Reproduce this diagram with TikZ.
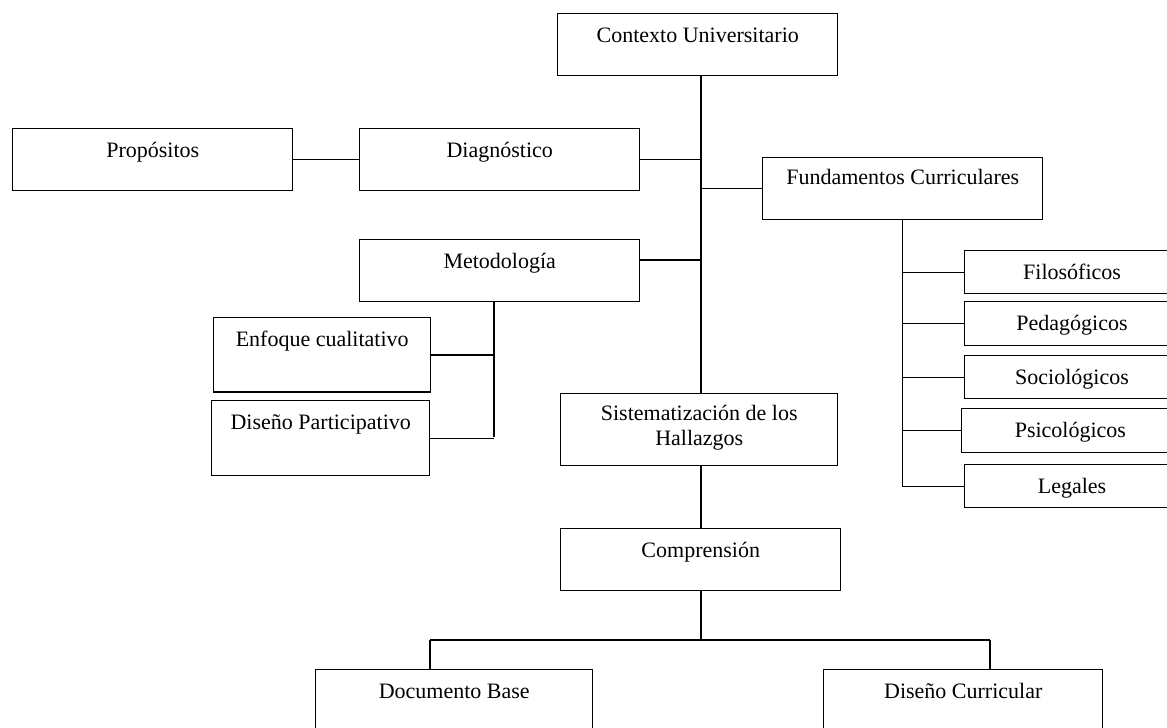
\documentclass[tikz,border=0pt]{standalone}
\usepackage{fontspec}
\setmainfont{Liberation Serif}
\usepackage{tikz}
\tikzset{every picture/.style={line width=1.1pt}}
\tikzset{
  box/.style={draw, inner sep=0pt, anchor=north west, align=center,
    minimum width=210pt, text height=21.75pt, text depth=24.75pt,
    font=\fontsize{16.5}{18.75}\selectfont},
  tallbox/.style={box, minimum width=163pt, text depth=34pt},
  subbox/.style={box, minimum width=161pt, text depth=10.5pt}
}

\begin{document}
\begin{tikzpicture}[x=0.75pt,y=0.75pt,yscale=-1,xscale=1]
\useasboundingbox (0,0) rectangle (1167,728);
%Shape: Rectangle (top)
\node[box] (ctx) at (557,13) {Contexto Universitario};
\node[box] (prop) at (12,128) {Propósitos};
\node[box] (diag) at (359,128) {Diagnóstico};
\node[box, text height=20pt, text depth=26.5pt] (fund) at (762,157) {Fundamentos Curriculares};
\node[box] (met) at (359,239) {Metodología};
%Shape: Rectangle (metodologia)
\node[tallbox, minimum width=162.75pt] (enf) at (213,317) {Enfoque cualitativo};
\node[tallbox, minimum width=163.5pt, text depth=34.5pt] (dpar) at (211,400) {Diseño Participativo};
%Shape: Rectangle (centro)
\node[box, minimum width=207.75pt, text height=39pt, text depth=15pt] (sis) at (560,393) {Sistematización de los\\Hallazgos};
\node[box] (comp) at (560,528) {Comprensión};
\node[box, minimum width=207.75pt] (docb) at (315,669) {Documento Base};
\node[box, minimum width=209.25pt] (disc) at (823,669) {Diseño Curricular};
%Shape: Rectangle (fundamentos)
\node[subbox] (fil) at (964,250) {Filosóficos};
\node[subbox, text depth=11.25pt] (ped) at (964,301) {Pedagógicos};
\node[subbox] (soc) at (964,355) {Sociológicos};
\node[subbox, minimum width=163pt, text depth=11.25pt] (psi) at (961,408) {Psicológicos};
\node[subbox] (leg) at (964,464) {Legales};
%Coordinates for the bars
\coordinate (trunk) at (701,76);
\coordinate (mbar) at (494,437);
\coordinate (bl) at (430,640);
\coordinate (br) at (990,640);
%Straight Lines (trunk)
\draw (trunk) -- (trunk |- sis.north);
\draw (prop.east) -- (diag.east -| diag.west);
\draw (diag.east) -- (diag.east -| trunk);
\draw (fund.west) -- (fund.west -| trunk);
\draw ([yshift=-8pt]met.east) -- ([yshift=-8pt]met.east -| trunk);
%Straight Lines (metodologia)
\draw (met.south -| mbar) -- (mbar);
\draw (enf.east) -- (enf.east -| mbar);
\draw (dpar.east) -- (dpar.east -| mbar);
%Straight Lines (fundamentos)
\draw (fund.south) |- (leg.west);
\draw (fil.west) -- (fil.west -| fund.south);
\draw (ped.west) -- (ped.west -| fund.south);
\draw (soc.west) -- (soc.west -| fund.south);
\draw (psi.west) -- (psi.west -| fund.south);
%Straight Lines (bottom)
\draw (trunk |- sis.south) -- (trunk |- comp.north);
\draw (trunk |- comp.south) -- (trunk |- bl);
\draw (bl) -- (br);
\draw (bl) -- (bl |- docb.north);
\draw (br) -- (br |- disc.north);
\end{tikzpicture}
\end{document}
